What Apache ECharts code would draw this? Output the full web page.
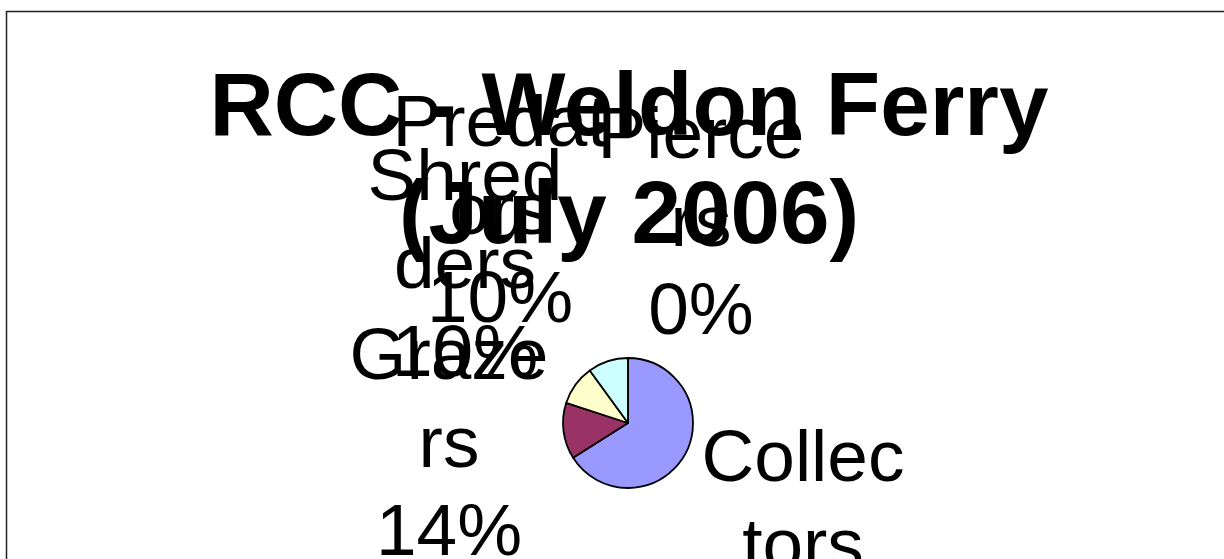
<!DOCTYPE html>
<html>
<head>
<meta charset="utf-8">
<style>
    html, body { margin: 0; padding: 0; background: #fff; }
    #chart { width: 1224px; height: 559px; }
</style>
<script src="https://cdn.jsdelivr.net/npm/echarts@6/dist/echarts.min.js"></script>
</head>
<body>
<div id="chart"></div>
<script>
// 数据
const categories = ["Collectors", "Grazers", "Shredders", "Predators", "Piercers"];
const values = [66, 14, 10, 10, 0];
// 调色盘
const colorArr = ["#9999ff", "#993366", "#ffffcc", "#ccffff", "#660066"];
// 标签中心位置（照抄原图的位置）
const labelPos = [[803, 549], [449, 447], [465, 268], [500, 214], [701, 226]];

const chart = echarts.init(document.getElementById("chart"));
const font = "'Liberation Sans', Arial, sans-serif";

const option = {
    animation: false,
    color: colorArr,
    title: {
        text: "RCC - Weldon Ferry\n(July 2006)",
        left: 629,
        top: 56,
        padding: 0,
        textAlign: "center",
        textStyle: {
            fontFamily: font,
            fontSize: 89,
            fontWeight: "bold",
            lineHeight: 108,
            color: "#000"
        }
    },
    // 外框
    graphic: [{
        type: "rect",
        shape: { x: 6.5, y: 11.5, width: 1400, height: 700 },
        style: { fill: "none", stroke: "#222", lineWidth: 1.5 },
        silent: true
    }],
    series: [{
        type: "pie",
        center: [628, 423],
        radius: 65,
        startAngle: 90,
        clockwise: true,
        avoidLabelOverlap: false,
        percentPrecision: 0,
        itemStyle: { borderColor: "#000", borderWidth: 1.8 },
        label: {
            show: true,
            position: "outside",
            formatter: "{b}\n{d}%",
            fontFamily: font,
            fontSize: 73,
            lineHeight: 88,
            color: "#000",
            width: 219,
            overflow: "breakAll",
            align: "center"
        },
        labelLine: { show: false },
        labelLayout: params => {
            const p = labelPos[params.dataIndex];
            return { x: p[0], y: p[1], align: "center", verticalAlign: "middle" };
        },
        emphasis: { disabled: true },
        data: categories.map((name, i) => ({ name: name, value: values[i] }))
    }]
};
chart.setOption(option);
</script>
</body>
</html>
